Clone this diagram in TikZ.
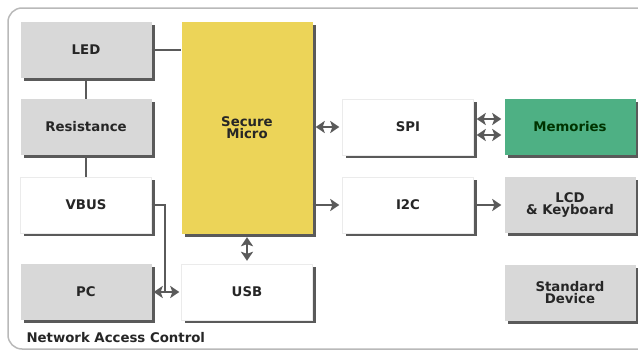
\documentclass[tikz,border=0pt]{standalone}
\usepackage{fontspec}
\setmainfont{DejaVu Sans}
\usetikzlibrary{arrows.meta, positioning, calc, shadows}
\definecolor{boxgray}{RGB}{216,216,216}
\definecolor{microyellow}{RGB}{236,212,88}
\definecolor{memgreen}{RGB}{78,176,132}
\definecolor{linegray}{RGB}{90,90,90}
\definecolor{framegray}{RGB}{185,185,185}
\tikzset{
  unit/.style={minimum width=131pt, minimum height=56pt, inner sep=0pt,
    align=center, text=black!85,
    drop shadow={shadow xshift=3pt, shadow yshift=-3pt, fill=linegray, opacity=1}},
  graybox/.style={unit, fill=boxgray},
  whitebox/.style={unit, fill=white, draw=black!8},
  conn/.style={draw=linegray, line width=2.4pt},
  bus/.style={conn, {Stealth[length=9pt,width=12pt,inset=2pt]}-{Stealth[length=9pt,width=12pt,inset=2pt]}},
  feed/.style={conn, -{Stealth[length=9pt,width=12pt,inset=2pt]}}
}
\begin{document}
\begin{tikzpicture}[x=1pt, y=-1pt, every node/.style={font=\bfseries\fontsize{13.3}{14}\selectfont}]
  \useasboundingbox (0,0) rectangle (638,356);

  % outer frame
  \draw[framegray, line width=1.5pt, rounded corners=14pt] (8,8) rectangle (680,349);
  \node[anchor=west, text=black!85] (title) at (23,338) {Network Access Control};

  % left column
  \node[graybox] (led) at (86,50) {LED};
  \node[graybox] (res) at (86,127) {Resistance};
  \node[whitebox] (vbus) at (86,205) {VBUS};
  \node[graybox] (pc) at (86,292) {PC};

  % middle column
  \node[unit, fill=microyellow, minimum height=212pt] (micro) at (247,128) {Secure\\[-2pt]Micro};
  \node[whitebox] (usb) at (247,292) {USB};

  % right columns
  \node[whitebox] (spi) at (408,127) {SPI};
  \node[whitebox] (i2c) at (408,205) {I2C};
  \node[unit, fill=memgreen, text=black!80!green] (mem) at (570,127) {Memories};
  \node[graybox] (lcd) at (570,205) {LCD\\[-2pt]\& Keyboard};
  \node[graybox] (std) at (570,293) {Standard\\[-2pt]Device};

  % plain links
  \draw[conn] (led.east) -- (led.east -| micro.west);
  \draw[conn] (led.south) -- (res.north);
  \draw[conn] (res.south) -- (vbus.north);
  \coordinate (knee) at ($(pc.east)!0.45!(usb.west)$);
  \draw[conn] (vbus.east) -| (knee);

  % buses
  \draw[bus, shorten <=2pt, shorten >=2pt] (pc.east) -- (usb.west);
  \draw[bus, shorten <=3pt, shorten >=3pt] (micro.south) -- (usb.north);
  \draw[bus, shorten <=3pt, shorten >=3pt] (micro.east |- spi) -- (spi.west);
  \draw[bus, shorten <=3pt, shorten >=3pt] ([yshift=8pt]spi.east) -- ([yshift=8pt]mem.west);
  \draw[bus, shorten <=3pt, shorten >=3pt] ([yshift=-8pt]spi.east) -- ([yshift=-8pt]mem.west);

  % one-way links
  \draw[feed, shorten >=3pt] (micro.east |- i2c) -- (i2c.west);
  \draw[feed, shorten <=3pt, shorten >=3pt] (i2c.east) -- (lcd.west);
\end{tikzpicture}
\end{document}
